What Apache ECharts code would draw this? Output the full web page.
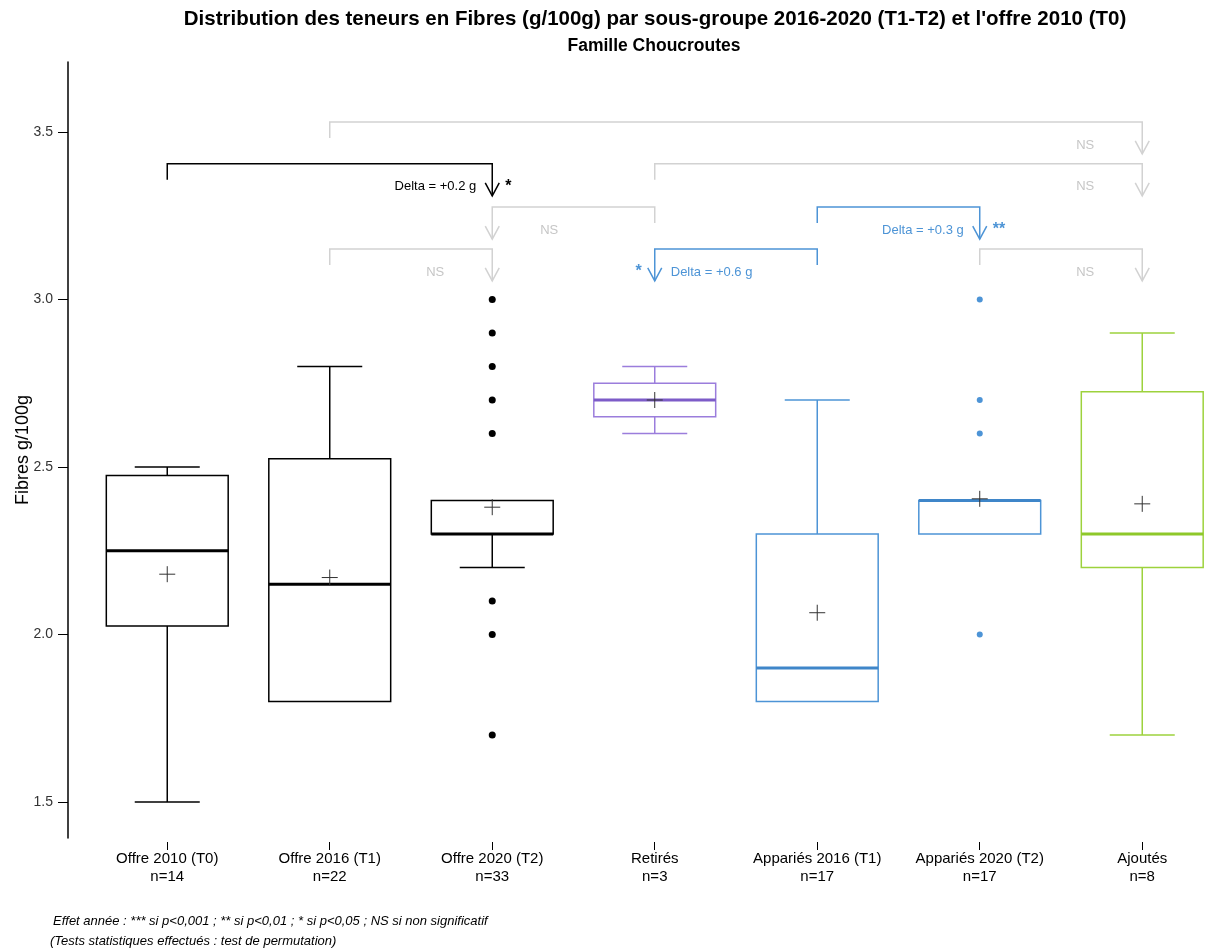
<!DOCTYPE html>
<html><head><meta charset="utf-8">
<script src="https://cdn.jsdelivr.net/npm/echarts@6.0.0/dist/echarts.min.js"></script>
<style>html,body{margin:0;padding:0;background:#fff}#c{width:1207px;height:951px}</style>
</head><body><div id="c"></div>
<script>
// ---- data ----
const categories = ['Offre 2010 (T0)', 'Offre 2016 (T1)', 'Offre 2020 (T2)', 'Retirés', 'Appariés 2016 (T1)', 'Appariés 2020 (T2)', 'Ajoutés'];
const counts = [14, 22, 33, 3, 17, 17, 8];
const whiskerLow  = [1.5,   1.8,   2.2, 2.6,  1.8, 2.3, 1.7];
const q1          = [2.025, 1.8,   2.3, 2.65, 1.8, 2.3, 2.2];
const medians     = [2.25,  2.15,  2.3, 2.7,  1.9, 2.4, 2.3];
const q3          = [2.475, 2.525, 2.4, 2.75, 2.3, 2.4, 2.725];
const whiskerHigh = [2.5,   2.8,   2.4, 2.8,  2.7, 2.4, 2.9];
const means       = [2.18,  2.17,  2.38, 2.70, 2.065, 2.405, 2.39];
const outliersOffre2020 = [3.0, 2.9, 2.8, 2.7, 2.6, 2.1, 2.0, 1.7];
const outliersApparies2020 = [3.0, 2.7, 2.6, 2.0];
const yTicks = [1.5, 2.0, 2.5, 3.0, 3.5];
const xTicks = [0, 1, 2, 3, 4, 5, 6];
// comparison brackets: from group -> to group (arrow), level on the y scale
const bracketFrom  = [1, 0, 3, 3, 4, 1, 4, 5];
const bracketTo    = [6, 2, 6, 2, 5, 2, 3, 6];
const bracketLevel = [3.53, 3.405, 3.405, 3.276, 3.276, 3.151, 3.151, 3.151];
const bracketSig   = ['NS', '*', 'NS', 'NS', '**', 'NS', '*', 'NS'];
const bracketDelta = ['', 'Delta = +0.2 g', '', '', 'Delta = +0.3 g', '', 'Delta = +0.6 g', ''];

// ---- styles ----
const groupColors = ['#000000', '#000000', '#000000', '#9b7ddc', '#4d94d6', '#4d94d6', '#9dd23c'];
const medianColors = ['#000000', '#000000', '#000000', '#7d5cc8', '#3f86c9', '#3f86c9', '#8ec82a'];
const nsGray = '#d2d2d2';
const FONT = 'Liberation Sans, Arial, sans-serif';

const chart = echarts.init(document.getElementById('c'), null, {renderer: 'canvas'});

const boxData = categories.map((c, i) => [i, whiskerLow[i], q1[i], medians[i], q3[i], whiskerHigh[i], means[i]]);
const bracketData = bracketFrom.map((f, k) => [f, bracketTo[k], bracketLevel[k], k]);

function renderBox(params, api) {
  const i = api.value(0);
  const color = groupColors[i];
  const band = api.size([1, 0])[0];
  const hw = band * 0.375, cw = band * 0.2;
  const p = k => api.coord([i, api.value(k)]);
  const lo = p(1), b1 = p(2), md = p(3), b3 = p(4), hi = p(5), mn = p(6);
  const x = lo[0];
  const ls = {stroke: color, lineWidth: 1.5, fill: null};
  const ch = [];
  if (Math.abs(hi[1] - b3[1]) > 0.5) {
    ch.push({type: 'line', shape: {x1: x, y1: hi[1], x2: x, y2: b3[1]}, style: ls});
    ch.push({type: 'line', shape: {x1: x - cw, y1: hi[1], x2: x + cw, y2: hi[1]}, style: ls});
  }
  if (Math.abs(lo[1] - b1[1]) > 0.5) {
    ch.push({type: 'line', shape: {x1: x, y1: lo[1], x2: x, y2: b1[1]}, style: ls});
    ch.push({type: 'line', shape: {x1: x - cw, y1: lo[1], x2: x + cw, y2: lo[1]}, style: ls});
  }
  ch.push({type: 'rect', shape: {x: x - hw, y: b3[1], width: 2 * hw, height: b1[1] - b3[1]},
           style: {stroke: color, lineWidth: 1.5, fill: 'rgba(0,0,0,0)'}});
  ch.push({type: 'line', shape: {x1: x - hw, y1: md[1], x2: x + hw, y2: md[1]},
           style: {stroke: medianColors[i], lineWidth: 3}});
  ch.push({type: 'line', shape: {x1: x - 8, y1: mn[1], x2: x + 8, y2: mn[1]}, style: {stroke: '#333', lineWidth: 1}});
  ch.push({type: 'line', shape: {x1: x, y1: mn[1] - 8, x2: x, y2: mn[1] + 8}, style: {stroke: '#333', lineWidth: 1}});
  return {type: 'group', children: ch};
}

function renderBracket(params, api) {
  const k = api.value(3);
  const f = api.value(0), t = api.value(1), lev = api.value(2);
  const pf = api.coord([f, lev]), pt = api.coord([t, lev]);
  const sig = bracketSig[k];
  const color = sig === 'NS' ? nsGray : groupColors[f];
  const y = pf[1];
  const tip = y + 32;
  const dir = Math.sign(pf[0] - pt[0]);
  const ls = {stroke: color, lineWidth: 1.5, fill: null};
  const ch = [
    {type: 'polyline', shape: {points: [[pf[0], y + 16], [pf[0], y], [pt[0], y], [pt[0], tip]]}, style: ls},
    {type: 'polyline', shape: {points: [[pt[0] - 7, tip - 13], [pt[0], tip], [pt[0] + 7, tip - 13]]}, style: ls}
  ];
  const ty = y + 23;
  if (sig === 'NS') {
    ch.push({type: 'text', x: pt[0] + dir * 57, y: ty,
      style: {text: 'NS', fill: '#c6c6c6', fontSize: 13, fontFamily: FONT, align: 'center', verticalAlign: 'middle'}});
  } else {
    ch.push({type: 'text', x: pt[0] + dir * 16, y: ty,
      style: {text: bracketDelta[k], fill: color, fontSize: 13, fontFamily: FONT, align: dir > 0 ? 'left' : 'right', verticalAlign: 'middle'}});
    ch.push({type: 'text', x: pt[0] - dir * 13, y: ty,
      style: {text: sig, fill: color, fontSize: 16, fontWeight: 'bold', fontFamily: FONT, align: dir > 0 ? 'right' : 'left', verticalAlign: 'middle'}});
  }
  return {type: 'group', children: ch};
}

const option = {
  backgroundColor: '#ffffff',
  animation: false,
  textStyle: {fontFamily: FONT},
  grid: {left: 86, right: 0, top: 62, bottom: 113, containLabel: false, outerBoundsMode: 'none'},
  xAxis: {
    type: 'value',
    min: -0.5, max: 6.3985,
    offset: 4,
    axisLine: {show: false, onZero: false},
    axisTick: {show: true, customValues: xTicks, length: 8, lineStyle: {color: '#000', width: 1}},
    axisLabel: {customValues: xTicks, formatter: v => categories[v] + '\nn=' + counts[v],
                color: '#000', fontSize: 15, lineHeight: 18, margin: 8, fontFamily: FONT},
    splitLine: {show: false}
  },
  yAxis: {
    type: 'value',
    min: 1.3925, max: 3.709,
    offset: 18,
    name: 'Fibres g/100g',
    nameLocation: 'middle',
    nameGap: 36,
    nameMoveOverlap: false,
    nameTextStyle: {color: '#000', fontSize: 18, fontFamily: FONT},
    axisLine: {show: true, onZero: false, lineStyle: {color: '#000', width: 1.5}},
    axisTick: {show: true, length: 10, customValues: yTicks, lineStyle: {color: '#000', width: 1}},
    axisLabel: {customValues: yTicks, formatter: v => v.toFixed(1), color: '#333', fontSize: 14, margin: 15, fontFamily: FONT},
    splitLine: {show: false}
  },
  graphic: [
    {type: 'text', x: 655, y: 19, style: {text: "Distribution des teneurs en Fibres (g/100g) par sous-groupe 2016-2020 (T1-T2) et l'offre 2010 (T0)", fill: '#000', fontSize: 20.5, fontWeight: 'bold', fontFamily: FONT, align: 'center', verticalAlign: 'middle'}},
    {type: 'text', x: 654, y: 46, style: {text: 'Famille Choucroutes', fill: '#000', fontSize: 17.5, fontWeight: 'bold', fontFamily: FONT, align: 'center', verticalAlign: 'middle'}},
    {type: 'text', x: 53, y: 921, style: {text: 'Effet année : *** si p<0,001 ; ** si p<0,01 ; * si p<0,05 ; NS si non significatif', fill: '#000', fontSize: 13, fontStyle: 'italic', fontFamily: FONT, verticalAlign: 'middle'}},
    {type: 'text', x: 50, y: 941, style: {text: '(Tests statistiques effectués : test de permutation)', fill: '#000', fontSize: 13, fontStyle: 'italic', fontFamily: FONT, verticalAlign: 'middle'}}
  ],
  series: [
    {type: 'custom', name: 'boxes', data: boxData, encode: {x: 0, y: [1, 2, 3, 4, 5, 6]}, renderItem: renderBox, z: 3},
    {type: 'scatter', name: 'outliers2020', data: outliersOffre2020.map(v => [2, v]), symbolSize: 7, itemStyle: {color: '#000', opacity: 1}, z: 4},
    {type: 'scatter', name: 'outliersApp2020', data: outliersApparies2020.map(v => [5, v]), symbolSize: 6, itemStyle: {color: '#4d94d6', opacity: 1}, z: 4},
    {type: 'custom', name: 'brackets', data: bracketData, encode: {x: 0, y: 2}, renderItem: renderBracket, z: 5, clip: false}
  ]
};
chart.setOption(option);
</script>
</body></html>
